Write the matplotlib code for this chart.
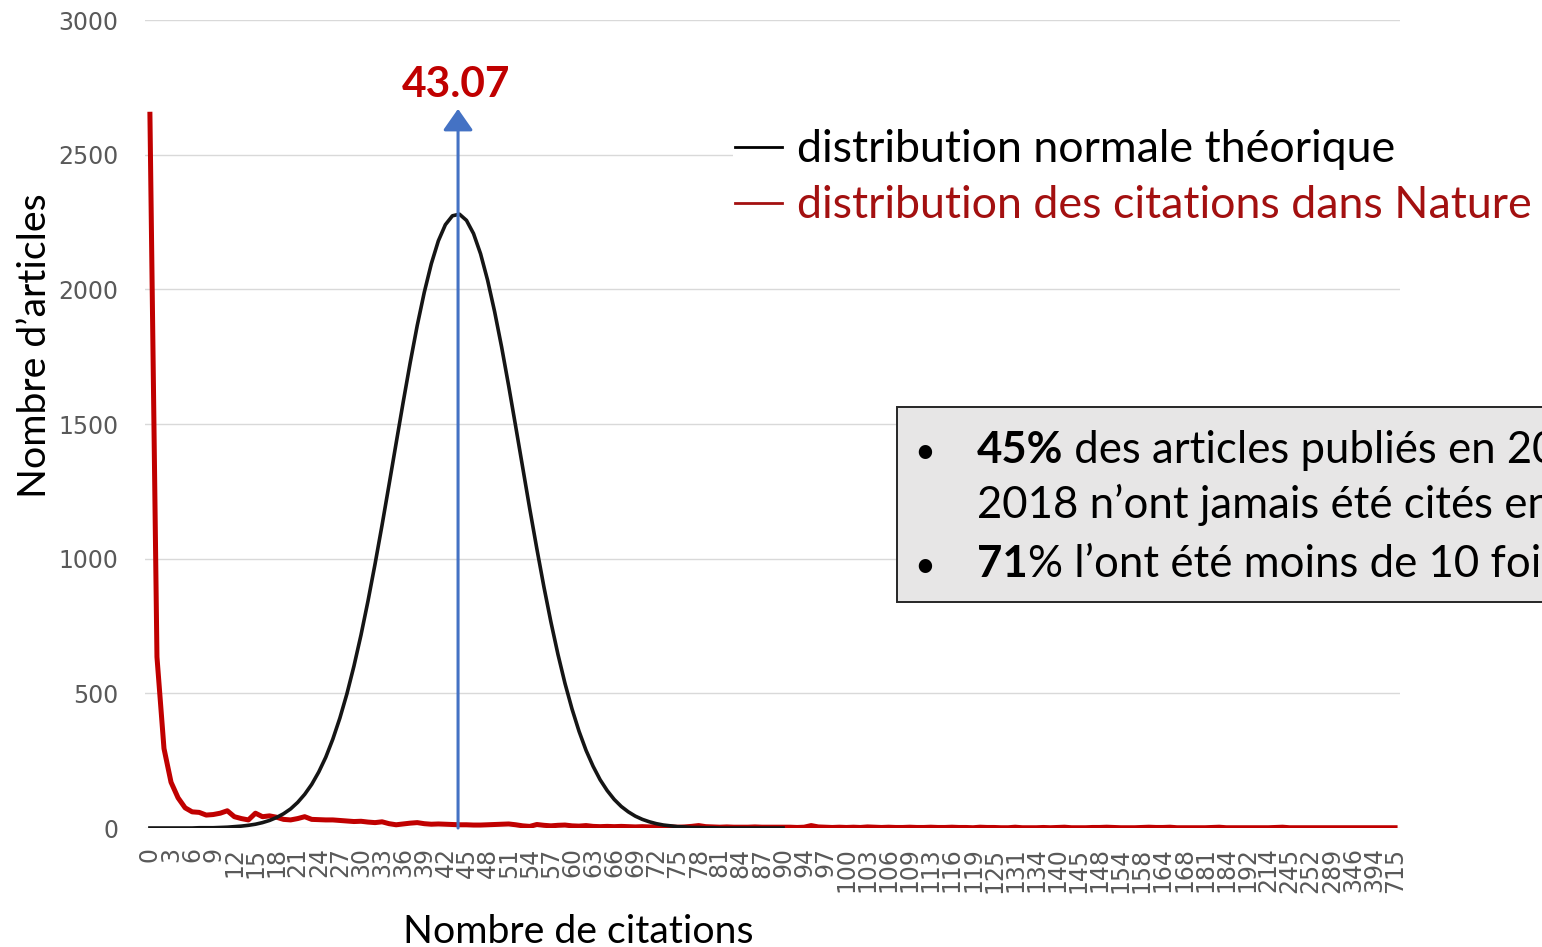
import numpy as np
import matplotlib
matplotlib.use("Agg")
import matplotlib.pyplot as plt
from matplotlib.patches import Rectangle
from matplotlib.lines import Line2D

plt.rcParams['font.family'] = ['Lato', 'DejaVu Sans']

# citations distribution in Nature (one value per category on the x axis)
citations_nature = [
    2650, 635, 295, 170, 112, 75, 60, 58, 48, 50,
    55, 64, 42, 35, 30, 55, 42, 45, 40, 32,
    30, 35, 42, 32, 31, 30, 30, 28, 26, 24,
    25, 22, 20, 23, 16, 12, 15, 18, 20, 16,
    14, 15, 14, 13, 12, 12, 11, 11, 12, 13,
    14, 15, 12, 8, 6, 13, 10, 8, 10, 11,
    8, 7, 9, 6, 5, 6, 5, 6, 5, 4,
    5, 4, 5, 4, 4, 3, 4, 6, 9, 5,
    4, 3, 4, 3, 3, 3, 4, 3, 3, 3,
    3, 3, 2, 3, 9, 4, 3, 2, 3, 2,
    3, 2, 4, 3, 2, 3, 2, 2, 3, 2,
    2, 3, 2, 2, 3, 2, 2, 1, 3, 2,
    2, 1, 1, 3, 1, 1, 1, 2, 1, 2,
    3, 1, 1, 1, 2, 2, 3, 2, 1, 1,
    1, 2, 3, 2, 2, 3, 1, 1, 1, 1,
    1, 2, 3, 1, 1, 1, 1, 1, 1, 1,
    2, 3, 1, 1, 1, 1, 1, 1, 1, 1,
    1, 1, 1, 1, 1, 1, 1, 1,
]

# theoretical normal distribution (categories 0..90)
normale = [
    0, 0, 0, 0, 0, 0, 0, 1, 1, 1,
    2, 3, 5, 7, 10, 14, 20, 28, 39, 53,
    71, 95, 125, 162, 208, 263, 330, 408, 498, 601,
    716, 843, 980, 1125, 1276, 1429, 1581, 1728, 1866, 1989,
    2095, 2180, 2240, 2273, 2279, 2256, 2207, 2132, 2034, 1917,
    1785, 1641, 1490, 1337, 1184, 1037, 896, 765, 645, 537,
    442, 359, 288, 229, 179, 139, 106, 80, 60, 44,
    32, 23, 16, 11, 8, 5, 4, 2, 2, 1,
    1, 0, 0, 0, 0, 0, 0, 0, 0, 0,
    0,
]

# labels shown on every third category
tick_labels = [
    "0", "3", "6", "9", "12", "15", "18", "21", "24", "27",
    "30", "33", "36", "39", "42", "45", "48", "51", "54", "57",
    "60", "63", "66", "69", "72", "75", "78", "81", "84", "87",
    "90", "94", "97", "100", "103", "106", "109", "113", "116", "119",
    "125", "131", "134", "140", "145", "148", "154", "158", "164", "168",
    "181", "184", "192", "214", "245", "252", "289", "346", "394", "715",
]

MEAN_LABEL = "43.07"
MEAN_POS = 43.8      # position of the mean on the category axis
ARROW_TOP = 2670

RED = '#C00000'
LEG_SIZE = 32.2   # legend text
NOTE_SIZE = 31.5  # text in the grey box

W, H = 1542, 947
fig = plt.figure(figsize=(W / 100, H / 100), dpi=100)
ax = fig.add_axes([145 / W, 119 / H, 1255 / W, 808 / H])

x_red = np.arange(len(citations_nature))
x_norm = np.arange(len(normale))
ax.plot(x_red, citations_nature, color=RED, lw=3.6, zorder=3,
        solid_joinstyle='round')
ax.plot(x_norm, normale, color='#151515', lw=2.6, zorder=4)

ax.annotate('', xy=(MEAN_POS, ARROW_TOP), xytext=(MEAN_POS, 0),
            arrowprops=dict(arrowstyle='-|>,head_length=0.6,head_width=0.42',
                            mutation_scale=22, color='#4472C4', lw=2.2,
                            shrinkA=0, shrinkB=0),
            zorder=5)
ax.text(MEAN_POS - 0.3, 2714, MEAN_LABEL, color=RED, fontsize=30.5,
        fontweight='bold', ha='center', va='baseline')

ax.set_xlim(-0.7, 177.7)
ax.set_ylim(0, 3000)
ax.set_yticks(range(0, 3001, 500))
ax.set_xticks(x_red[::3])
ax.set_xticklabels(tick_labels, rotation=90, family='DejaVu Sans')
for lab in ax.get_yticklabels():
    lab.set_family('DejaVu Sans')
ax.yaxis.grid(True, color='#D9D9D9', lw=1.0)
ax.set_axisbelow(True)
for s in ax.spines.values():
    s.set_visible(False)
ax.tick_params(axis='x', length=0, colors='#595959', labelsize=17, pad=14)
ax.tick_params(axis='y', length=0, colors='#595959', labelsize=17, pad=19)

fig.text(35 / W, 1 - 346 / H, 'Nombre d\u2019articles', rotation=90,
         ha='center', va='center', fontsize=28.3)
fig.text(578 / W, 4 / H, 'Nombre de citations', ha='center', va='baseline',
         fontsize=28.3)

# legend: white text box over the grid, a dash and a coloured line of text
fig.add_artist(Rectangle((733 / W, 1 - 232 / H), 0.6, 112 / H,
                         transform=fig.transFigure, facecolor='white',
                         edgecolor='none', zorder=1))
legend_items = [
    (162, 'distribution normale th\u00e9orique', 'black'),
    (218, 'distribution des citations dans Nature', '#A31010'),
]
for y_px, label, col in legend_items:
    yf = 1 - y_px / H
    dash_y = 1 - (y_px - 15) / H
    fig.add_artist(Line2D([735 / W, 782 / W], [dash_y, dash_y],
                          transform=fig.transFigure, color=col, lw=2.0,
                          zorder=2))
    fig.text(797 / W, yf, label, fontsize=LEG_SIZE, color=col, va='baseline')

# grey note box (runs off the right edge, as in the original slide)
fig.add_artist(Rectangle((897 / W, 345 / H), 0.45, 195 / H,
                         transform=fig.transFigure, facecolor='#E7E6E6',
                         edgecolor='#262626', lw=1.4, zorder=1))

note_lines = [
    (463, '45%', ' des articles publi\u00e9s en 2017', True),
    (518, '', '2018 n\u2019ont jamais \u00e9t\u00e9 cit\u00e9s en 2019', False),
    (577, '71', '% l\u2019ont \u00e9t\u00e9 moins de 10 fois', True),
]
renderer = fig.canvas.get_renderer()
for y_px, bold_part, rest, bullet in note_lines:
    yf = 1 - y_px / H
    x0 = 977 / W
    if bullet:
        fig.text(925 / W, yf, '\u2022', fontsize=26, ha='center', va='baseline')
    if bold_part:
        t1 = fig.text(x0, yf, bold_part, fontsize=NOTE_SIZE, fontweight='bold',
                      va='baseline')
        x0 = t1.get_window_extent(renderer).x1 / W
    fig.text(x0, yf, rest, fontsize=NOTE_SIZE, va='baseline')

fig.savefig('out.png', dpi=100)
